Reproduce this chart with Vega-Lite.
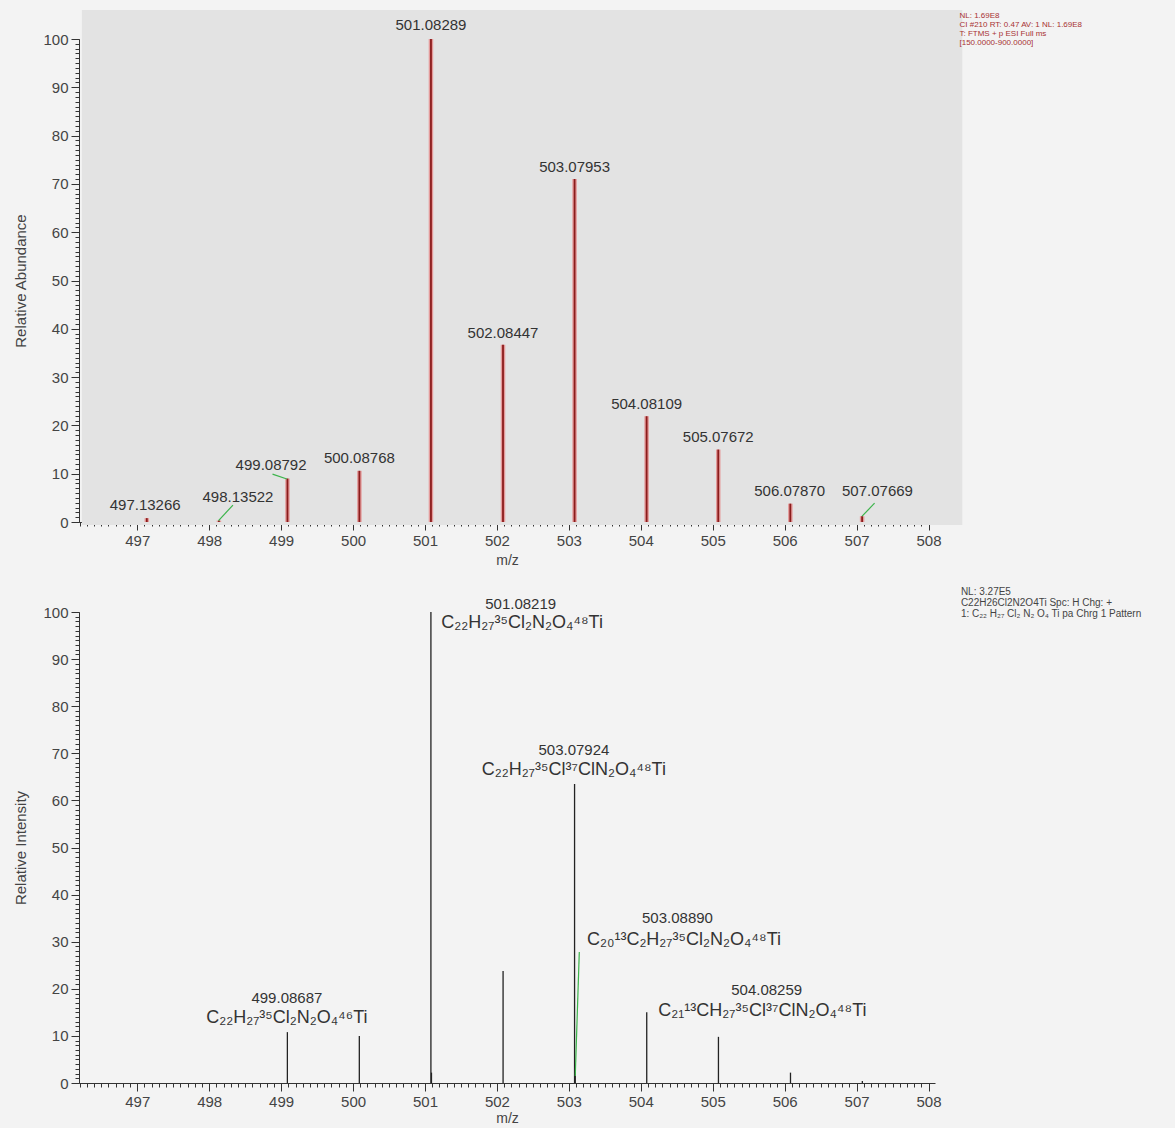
{
  "$schema": "https://vega.github.io/schema/vega-lite/v6.json",
  "background": "#f3f3f3",
  "padding": {"left": 13, "top": 10, "right": 80, "bottom": 5},
  "spacing": 90,
  "bounds": "flush",
  "config": {
    "view": {"stroke": null},
    "font": "Liberation Sans",
    "axis": {
      "grid": false,
      "domainColor": "#333333",
      "tickColor": "#333333",
      "labelColor": "#444444",
      "titleColor": "#444444",
      "labelFont": "Liberation Sans",
      "titleFont": "Liberation Sans",
      "labelFontSize": 15,
      "titleFontSize": 15,
      "titleFontWeight": "normal"
    }
  },
  "datasets": {
    "topBg": [{"x1": 496.23, "x2": 508.47, "y1": -0.6, "y2": 106}],
    "topInfo": [{"text": "NL: 1.69E8\nCI #210 RT: 0.47 AV: 1 NL: 1.69E8\nT: FTMS + p ESI Full ms\n[150.0000-900.0000]", "x": 508.43, "y": 105.6}],
    "bottomInfo": [{"text": "NL: 3.27E5\nC22H26Cl2N2O4Ti Spc: H Chg: +\n1: C₂₂ H₂₇ Cl₂ N₂ O₄ Ti  pa Chrg 1 Pattern", "x": 508.45, "y": 105.4}],
    "topPeaks": [
      {"mz": 497.13266, "v": 0.8, "label": "497.13266", "lx": 497.11, "ly": 3.5},
      {"mz": 498.13522, "v": 0.3, "label": "498.13522", "lx": 498.4, "ly": 5.2},
      {"mz": 499.08792, "v": 9.0, "label": "499.08792", "lx": 498.86, "ly": 11.8},
      {"mz": 500.08768, "v": 10.6, "label": "500.08768", "lx": 500.08768, "ly": 13.2},
      {"mz": 501.08289, "v": 100, "label": "501.08289", "lx": 501.08289, "ly": 102.8},
      {"mz": 502.08447, "v": 36.7, "label": "502.08447", "lx": 502.08447, "ly": 39.2},
      {"mz": 503.07953, "v": 71.0, "label": "503.07953", "lx": 503.07953, "ly": 73.4},
      {"mz": 504.08109, "v": 21.9, "label": "504.08109", "lx": 504.08109, "ly": 24.4},
      {"mz": 505.07672, "v": 15.0, "label": "505.07672", "lx": 505.07672, "ly": 17.6},
      {"mz": 506.0787, "v": 3.8, "label": "506.07870", "lx": 506.07, "ly": 6.4},
      {"mz": 507.07669, "v": 1.2, "label": "507.07669", "lx": 507.29, "ly": 6.4}
    ],
    "topLeaders": [
      {"x1": 498.13, "y1": 0.3, "x2": 498.33, "y2": 3.5},
      {"x1": 499.08, "y1": 8.9, "x2": 498.88, "y2": 9.9},
      {"x1": 507.077, "y1": 1.2, "x2": 507.25, "y2": 3.9}
    ],
    "bottomSticks": [
      {"mz": 499.08687, "v": 10.8},
      {"mz": 500.087, "v": 10.0},
      {"mz": 501.08219, "v": 100},
      {"mz": 501.09, "v": 2.2},
      {"mz": 502.0855, "v": 23.8},
      {"mz": 503.07924, "v": 63.5},
      {"mz": 503.0889, "v": 2.6},
      {"mz": 504.08259, "v": 15.0},
      {"mz": 505.0795, "v": 9.8},
      {"mz": 506.081, "v": 2.2},
      {"mz": 507.08, "v": 0.4}
    ],
    "bottomLeaders": [
      {"x1": 503.0889, "y1": 1.5, "x2": 503.145, "y2": 27.8}
    ],
    "bottomLabels": [
      {"text": "501.08219", "kind": "num", "lx": 502.33, "ly": 101.7},
      {"text": "C₂₂H₂₇³⁵Cl₂N₂O₄⁴⁸Ti", "kind": "formula", "lx": 502.35, "ly": 97.7},
      {"text": "503.07924", "kind": "num", "lx": 503.07, "ly": 70.7},
      {"text": "C₂₂H₂₇³⁵Cl³⁷ClN₂O₄⁴⁸Ti", "kind": "formula", "lx": 503.07, "ly": 66.5},
      {"text": "503.08890", "kind": "num", "lx": 504.51, "ly": 35.0},
      {"text": "C₂₀¹³C₂H₂₇³⁵Cl₂N₂O₄⁴⁸Ti", "kind": "formula", "lx": 504.6, "ly": 30.4},
      {"text": "504.08259", "kind": "num", "lx": 505.75, "ly": 19.7},
      {"text": "C₂₁¹³CH₂₇³⁵Cl³⁷ClN₂O₄⁴⁸Ti", "kind": "formula", "lx": 505.69, "ly": 15.3},
      {"text": "499.08687", "kind": "num", "lx": 499.08, "ly": 18.0},
      {"text": "C₂₂H₂₇³⁵Cl₂N₂O₄⁴⁶Ti", "kind": "formula", "lx": 499.08, "ly": 13.8}
    ]
  },
  "vconcat": [
    {
      "width": 856,
      "height": 483,
      "resolve": {"axis": {"x": "independent", "y": "independent"}},
      "layer": [
        {
          "data": {"name": "topBg"},
          "mark": {"type": "rect", "color": "#e3e3e3", "clip": false},
          "encoding": {
            "x": {"field": "x1", "type": "quantitative", "scale": {"domain": [496.19, 508.09], "nice": false, "zero": false},
                  "axis": {"orient": "bottom", "tickCount": 120, "labels": false, "domain": false, "title": null, "tickSize": 4}},
            "x2": {"field": "x2"},
            "y": {"field": "y1", "type": "quantitative", "scale": {"domain": [0, 100], "nice": false},
                  "axis": {"orient": "left", "tickCount": 100, "labels": false, "domain": false, "title": null, "tickSize": 4}},
            "y2": {"field": "y2"}
          }
        },
        {
          "data": {"name": "topPeaks"},
          "mark": {"type": "rule", "color": "#e49a9a", "strokeWidth": 4.5},
          "encoding": {
            "x": {"field": "mz", "type": "quantitative", "scale": {"domain": [496.19, 508.09], "nice": false, "zero": false},
                  "axis": {"orient": "bottom", "values": [497, 498, 499, 500, 501, 502, 503, 504, 505, 506, 507, 508], "tickSize": 8, "labelPadding": 3, "title": "m/z", "titlePadding": 5, "titleFontSize": 14}},
            "y": {"field": "v", "type": "quantitative", "scale": {"domain": [0, 100], "nice": false},
                  "axis": {"orient": "left", "values": [0, 10, 20, 30, 40, 50, 60, 70, 80, 90, 100], "tickSize": 8, "labelPadding": 3, "title": "Relative Abundance", "titlePadding": 14}},
            "y2": {"datum": 0}
          }
        },
        {
          "data": {"name": "topPeaks"},
          "mark": {"type": "rule", "color": "#8b1c1c", "strokeWidth": 1.8},
          "encoding": {
            "x": {"field": "mz", "type": "quantitative", "scale": {"domain": [496.19, 508.09], "nice": false, "zero": false}, "axis": null},
            "y": {"field": "v", "type": "quantitative", "scale": {"domain": [0, 100], "nice": false}, "axis": null},
            "y2": {"datum": 0}
          }
        },
        {
          "data": {"name": "topLeaders"},
          "mark": {"type": "rule", "color": "#3cb44b", "strokeWidth": 1.2, "clip": false},
          "encoding": {
            "x": {"field": "x1", "type": "quantitative", "scale": {"domain": [496.19, 508.09], "nice": false, "zero": false}, "axis": null},
            "y": {"field": "y1", "type": "quantitative", "scale": {"domain": [0, 100], "nice": false}, "axis": null},
            "x2": {"field": "x2"},
            "y2": {"field": "y2"}
          }
        },
        {
          "data": {"name": "topPeaks"},
          "mark": {"type": "text", "fontSize": 15, "color": "#333333", "align": "center", "baseline": "middle", "clip": false},
          "encoding": {
            "x": {"field": "lx", "type": "quantitative", "scale": {"domain": [496.19, 508.09], "nice": false, "zero": false}, "axis": null},
            "y": {"field": "ly", "type": "quantitative", "scale": {"domain": [0, 100], "nice": false}, "axis": null},
            "text": {"field": "label"}
          }
        },
        {
          "data": {"name": "topInfo"},
          "mark": {"type": "text", "fontSize": 8, "lineHeight": 9, "lineBreak": "\n", "color": "#a83232", "align": "left", "baseline": "top", "clip": false},
          "encoding": {
            "x": {"field": "x", "type": "quantitative", "scale": {"domain": [496.19, 508.09], "nice": false, "zero": false}, "axis": null},
            "y": {"field": "y", "type": "quantitative", "scale": {"domain": [0, 100], "nice": false}, "axis": null},
            "text": {"field": "text"}
          }
        }
      ]
    },
    {
      "width": 856,
      "height": 471,
      "resolve": {"axis": {"x": "independent", "y": "independent"}},
      "layer": [
        {
          "data": {"name": "bottomSticks"},
          "mark": {"type": "rule", "opacity": 0},
          "encoding": {
            "x": {"field": "mz", "type": "quantitative", "scale": {"domain": [496.19, 508.09], "nice": false, "zero": false},
                  "axis": {"orient": "bottom", "tickCount": 120, "labels": false, "domain": false, "title": null, "tickSize": 4}},
            "y": {"field": "v", "type": "quantitative", "scale": {"domain": [0, 100], "nice": false},
                  "axis": {"orient": "left", "tickCount": 100, "labels": false, "domain": false, "title": null, "tickSize": 4}},
            "y2": {"datum": 0}
          }
        },
        {
          "data": {"name": "bottomSticks"},
          "mark": {"type": "rule", "color": "#222222", "strokeWidth": 1.3},
          "encoding": {
            "x": {"field": "mz", "type": "quantitative", "scale": {"domain": [496.19, 508.09], "nice": false, "zero": false},
                  "axis": {"orient": "bottom", "values": [497, 498, 499, 500, 501, 502, 503, 504, 505, 506, 507, 508], "tickSize": 8, "labelPadding": 3, "title": "m/z", "titlePadding": 2, "titleFontSize": 14}},
            "y": {"field": "v", "type": "quantitative", "scale": {"domain": [0, 100], "nice": false},
                  "axis": {"orient": "left", "values": [0, 10, 20, 30, 40, 50, 60, 70, 80, 90, 100], "tickSize": 8, "labelPadding": 3, "title": "Relative Intensity", "titlePadding": 14}},
            "y2": {"datum": 0}
          }
        },
        {
          "data": {"name": "bottomLeaders"},
          "mark": {"type": "rule", "color": "#3cb44b", "strokeWidth": 1.2, "clip": false},
          "encoding": {
            "x": {"field": "x1", "type": "quantitative", "scale": {"domain": [496.19, 508.09], "nice": false, "zero": false}, "axis": null},
            "y": {"field": "y1", "type": "quantitative", "scale": {"domain": [0, 100], "nice": false}, "axis": null},
            "x2": {"field": "x2"},
            "y2": {"field": "y2"}
          }
        },
        {
          "data": {"name": "bottomLabels"},
          "mark": {"type": "text", "color": "#333333", "align": "center", "baseline": "middle", "clip": false},
          "encoding": {
            "x": {"field": "lx", "type": "quantitative", "scale": {"domain": [496.19, 508.09], "nice": false, "zero": false}, "axis": null},
            "y": {"field": "ly", "type": "quantitative", "scale": {"domain": [0, 100], "nice": false}, "axis": null},
            "text": {"field": "text"},
            "size": {"field": "kind", "type": "nominal", "scale": {"domain": ["num", "formula"], "range": [15, 18]}, "legend": null}
          }
        },
        {
          "data": {"name": "bottomInfo"},
          "mark": {"type": "text", "fontSize": 10, "lineHeight": 11, "lineBreak": "\n", "color": "#444444", "align": "left", "baseline": "top", "clip": false},
          "encoding": {
            "x": {"field": "x", "type": "quantitative", "scale": {"domain": [496.19, 508.09], "nice": false, "zero": false}, "axis": null},
            "y": {"field": "y", "type": "quantitative", "scale": {"domain": [0, 100], "nice": false}, "axis": null},
            "text": {"field": "text"}
          }
        }
      ]
    }
  ]
}
